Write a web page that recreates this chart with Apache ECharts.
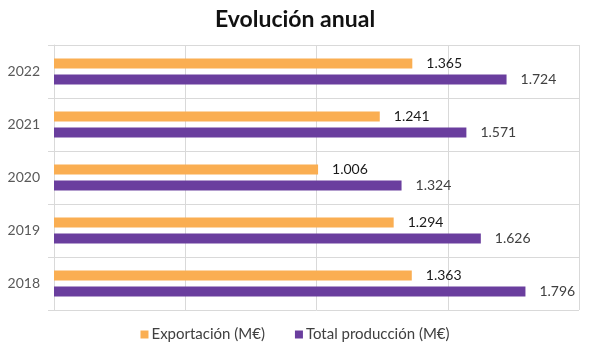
<!DOCTYPE html>
<html>
<head>
<meta charset="utf-8">
<script src="https://cdn.jsdelivr.net/npm/echarts@6/dist/echarts.min.js"></script>
<style>
  html, body { margin: 0; padding: 0; background: #fff; }
  #chart { width: 590px; height: 353px; }
</style>
</head>
<body>
<div id="chart"></div>
<script>
// datos (M€)
const years = ['2022', '2021', '2020', '2019', '2018']
const exportacion = [1365, 1241, 1006, 1294, 1363]
const produccion = [1724, 1571, 1324, 1626, 1796]
const seriesNames = ['Exportación (M€)', 'Total producción (M€)']
const xTicks = { min: 0, max: 2000, interval: 500 }

const font = 'Lato, "Open Sans", sans-serif'
const gridColor = '#d9d9d9'

// 1365 -> "1.365"
const fmt = (v) => String(v).replace(/\B(?=(\d{3})+(?!\d))/g, '.')

const chart = echarts.init(document.getElementById('chart'))

chart.setOption({
  animation: false,
  title: {
    text: 'Evolución anual',
    left: 'center',
    top: 3,
    textStyle: { fontFamily: font, fontSize: 23, fontWeight: 'bold', color: '#111' },
  },
  legend: {
    bottom: 6,
    left: 'center',
    itemWidth: 8,
    itemHeight: 8,
    itemGap: 30,
    icon: 'rect',
    textStyle: { fontFamily: font, fontSize: 15, color: '#404040', padding: [0, 0, 0, -2] },
    data: seriesNames,
  },
  grid: { left: 54, right: 11, top: 45, bottom: 43, containLabel: false },
  xAxis: {
    type: 'value',
    ...xTicks,
    axisLabel: { show: false },
    axisLine: { show: false },
    axisTick: { show: false },
    splitLine: { show: true, lineStyle: { color: gridColor, width: 1 } },
  },
  yAxis: {
    type: 'category',
    inverse: true,
    data: years,
    axisLine: { show: true, lineStyle: { color: gridColor } },
    axisTick: { show: true, length: 6, lineStyle: { color: gridColor } },
    splitLine: { show: true, lineStyle: { color: gridColor } },
    axisLabel: { fontFamily: font, fontSize: 14, color: '#595959', margin: 14 },
  },
  series: [
    {
      name: seriesNames[0],
      type: 'bar',
      data: exportacion,
      barWidth: 10,
      barGap: '60%',
      itemStyle: { color: '#FAAE52' },
      label: {
        show: true,
        position: 'right',
        distance: 14,
        formatter: (p) => fmt(p.value),
        fontFamily: font,
        fontSize: 14,
        color: '#1a1a1a',
      },
    },
    {
      name: seriesNames[1],
      type: 'bar',
      data: produccion,
      barWidth: 10,
      barGap: '60%',
      itemStyle: { color: '#6A3E9E' },
      label: {
        show: true,
        position: 'right',
        distance: 14,
        formatter: (p) => fmt(p.value),
        fontFamily: font,
        fontSize: 14,
        color: '#404040',
      },
    },
  ],
})
</script>
</body>
</html>
